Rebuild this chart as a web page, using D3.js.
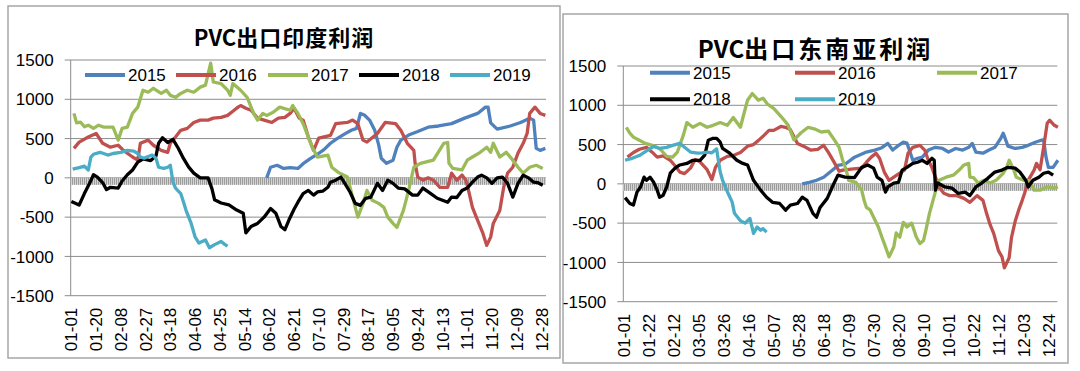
<!DOCTYPE html>
<html>
<head>
<meta charset="utf-8">
<script src="https://cdn.jsdelivr.net/npm/d3@7"></script>
<style>
  body { margin: 0; background: #fff; }
  svg { display: block; }
  text { font-family: "Liberation Sans", Arial, sans-serif; fill: #000; }
  .title { font-family: "Noto Sans CJK SC", sans-serif; font-weight: bold; }
</style>
</head>
<body>
<script>
// PVC export profit, two panels (India / Southeast Asia), one line per year.
// Points are [day of year (0 = 01-01), profit].

const years = ["2015", "2016", "2017", "2018", "2019"];
const colors = ["#4F81BD", "#C0504D", "#9BBB59", "#000000", "#4BACC6"];
const yTicks = [-1500, -1000, -500, 0, 500, 1000, 1500];

const indiaLabels = ["01-01","01-20","02-08","02-27","03-18","04-06","04-25","05-14","06-02","06-21",
  "07-10","07-29","08-17","09-05","09-24","10-13","11-01","11-20","12-09","12-28"];
const seaLabels = ["01-01","01-22","02-12","03-05","03-26","04-16","05-07","05-28","06-18",
  "07-09","07-30","08-20","09-10","10-01","10-22","11-12","12-03","12-24"];

// ---- India
const india2015 = [[150,0],[153,135],[158,160],[163,120],[168,130],[174,120],[178,180],[184,250],[189,300],[194,360],
  [199,440],[204,500],[210,560],[215,605],[219,630],[222,820],[225,800],[229,735],[233,605],[236,420],[238,250],
  [242,185],[247,225],[250,390],[253,480],[259,545],[266,590],[274,645],[282,660],[292,690],[302,760],[312,820],
  [318,900],[320,900],[322,700],[327,620],[337,660],[345,705],[352,760],[355,735],[357,375],[360,350],[364,375]];
const india2016 = [[2,375],[6,455],[13,520],[19,565],[24,440],[30,390],[36,415],[40,350],[47,265],[51,225],[53,440],
  [59,480],[63,415],[69,350],[74,325],[76,440],[80,520],[84,605],[89,630],[94,705],[99,735],[105,735],[109,760],
  [115,770],[120,795],[125,860],[128,900],[130,920],[134,885],[138,860],[143,760],[148,735],[154,705],[159,760],
  [164,770],[168,820],[171,885],[175,760],[178,735],[182,520],[186,350],[190,505],[199,540],[203,690],[212,705],
  [216,735],[220,690],[224,480],[227,455],[235,565],[241,705],[249,690],[253,605],[258,440],[263,350],[264,185],
  [266,10],[270,-30],[274,0],[278,-30],[283,-120],[289,-120],[292,60],[296,-30],[300,35],[303,-30],[305,-160],
  [308,-375],[312,-540],[316,-705],[319,-860],[322,-755],[324,-580],[329,-415],[332,-120],[335,60],[339,135],
  [343,315],[347,440],[350,565],[352,820],[356,900],[360,820],[364,795]];
const india2017 = [[2,820],[4,700],[7,710],[10,650],[13,670],[17,630],[21,670],[25,645],[32,645],[36,480],[39,630],
  [43,645],[47,820],[51,900],[55,1115],[59,1090],[63,1140],[69,1075],[73,1115],[76,1050],[80,1025],[84,1075],
  [89,1115],[94,1090],[99,1155],[103,1180],[107,1460],[109,1220],[115,1200],[120,1115],[122,1050],[124,1200],
  [130,1115],[135,1025],[140,820],[143,735],[147,820],[150,795],[155,835],[160,900],[168,860],[170,920],[174,820],
  [178,690],[185,390],[189,265],[197,290],[200,135],[205,70],[212,10],[216,-245],[220,-500],[224,-325],[227,-160],
  [231,-285],[236,-325],[240,-375],[243,-500],[247,-580],[250,-630],[255,-415],[259,-160],[263,135],[268,185],
  [278,225],[286,440],[289,450],[290,185],[293,120],[300,100],[304,225],[308,265],[314,325],[319,390],[322,325],
  [324,440],[329,265],[334,325],[339,225],[343,135],[347,60],[352,135],[357,160],[362,120]];
const india2018 = [[0,-300],[6,-345],[10,-200],[14,-70],[17,40],[20,10],[24,-60],[27,-150],[30,-120],[36,-130],
  [39,-40],[43,40],[47,100],[51,200],[55,240],[61,220],[65,280],[67,440],[70,510],[74,450],[78,490],[82,380],
  [86,250],[90,140],[94,60],[99,0],[105,0],[108,-140],[110,-280],[115,-320],[121,-345],[127,-410],[132,-450],
  [134,-700],[138,-620],[143,-580],[148,-500],[153,-390],[157,-450],[161,-620],[164,-660],[167,-540],[171,-400],
  [174,-310],[178,-200],[182,-160],[186,-220],[189,-180],[193,-170],[197,-120],[199,-55],[203,-30],[207,10],
  [210,-70],[214,-180],[218,-325],[222,-350],[226,-260],[230,-245],[235,-70],[239,-160],[243,-30],[247,-70],
  [251,-130],[256,-140],[262,-220],[266,-220],[270,-130],[276,-200],[281,-260],[285,-285],[289,-310],[292,-245],
  [296,-250],[300,-160],[304,-130],[308,-55],[312,10],[315,35],[319,0],[323,-70],[327,0],[331,10],[335,-70],
  [339,-245],[343,-70],[347,35],[351,0],[355,-55],[358,-60],[362,-95]];
const india2019 = [[1,110],[6,130],[10,150],[13,100],[15,265],[17,300],[22,325],[28,290],[32,310],[38,325],[43,350],
  [48,340],[51,310],[53,265],[56,250],[58,265],[62,290],[65,250],[67,135],[71,120],[74,135],[76,160],[78,-50],
  [80,-130],[84,-200],[86,-300],[88,-410],[92,-580],[95,-750],[98,-830],[103,-790],[106,-890],[110,-850],
  [115,-810],[118,-850],[120,-870]];

// ---- Southeast Asia
const sea2015 = [[150,0],[156,20],[162,45],[168,85],[175,170],[180,235],[186,250],[194,340],[203,400],[211,430],
  [217,460],[222,515],[226,430],[231,490],[235,530],[238,520],[241,390],[243,300],[247,325],[251,340],[256,430],
  [262,465],[268,450],[273,405],[279,450],[285,430],[290,465],[293,515],[296,405],[302,390],[307,430],[312,465],
  [317,580],[319,645],[323,480],[329,450],[335,465],[340,490],[346,530],[351,555],[353,560],[355,340],[357,210],
  [361,210],[365,300]];
const sea2016 = [[3,340],[8,400],[13,440],[19,465],[24,400],[28,340],[33,355],[39,300],[43,230],[47,150],[51,130],
  [56,200],[60,310],[64,280],[70,180],[74,55],[77,210],[81,300],[87,350],[92,360],[98,400],[104,480],[109,500],
  [113,550],[118,620],[122,680],[126,680],[132,730],[136,720],[140,690],[146,515],[151,480],[157,430],[163,440],
  [168,490],[172,400],[177,270],[181,160],[184,175],[193,190],[200,200],[204,275],[208,340],[212,390],[215,325],
  [219,150],[223,45],[227,85],[232,135],[236,175],[239,390],[243,465],[249,490],[253,430],[256,300],[259,210],
  [263,45],[265,-40],[269,-120],[274,-150],[280,-150],[286,-185],[291,-235],[297,-150],[302,-210],[305,-375],
  [308,-520],[311,-630],[315,-850],[318,-930],[320,-1070],[324,-940],[326,-680],[329,-480],[332,-335],[335,-210],
  [337,-120],[340,45],[345,175],[347,260],[350,180],[353,465],[356,770],[358,810],[362,745],[365,720]];
const sea2017 = [[2,720],[5,645],[8,595],[13,555],[18,515],[24,490],[30,450],[36,350],[41,340],[45,405],[50,620],
  [53,780],[58,720],[64,770],[70,720],[75,745],[81,780],[87,745],[92,845],[98,720],[101,895],[104,1065],[108,1150],
  [113,1065],[117,1090],[121,1010],[126,960],[132,860],[138,750],[143,560],[149,650],[155,720],[160,700],[166,660],
  [172,670],[177,560],[181,465],[184,300],[187,175],[189,45],[195,20],[200,-80],[202,-210],[204,-300],[207,-330],
  [210,-425],[214,-550],[217,-680],[219,-760],[223,-930],[227,-800],[229,-625],[232,-680],[235,-490],[238,-550],
  [242,-500],[246,-680],[249,-760],[252,-720],[254,-590],[257,-375],[260,-210],[263,-40],[265,45],[271,85],
  [277,110],[282,175],[286,240],[290,260],[291,85],[294,80],[298,10],[303,45],[308,10],[313,45],[319,135],
  [322,210],[324,300],[328,175],[330,85],[336,45],[341,40],[345,-80],[350,-80],[356,-40],[362,-55],[365,-40]];
const sea2018 = [[1,-175],[5,-250],[8,-270],[11,-105],[14,-40],[17,85],[19,45],[22,85],[25,20],[28,-80],[30,-170],
  [33,-145],[36,-40],[39,135],[43,200],[47,240],[53,260],[58,300],[64,300],[68,365],[71,555],[75,580],[78,580],
  [81,530],[83,450],[89,390],[95,300],[100,260],[104,240],[109,45],[115,-80],[120,-170],[125,-235],[131,-250],
  [136,-335],[140,-270],[146,-250],[150,-170],[154,-210],[159,-375],[162,-425],[165,-300],[171,-185],[176,-15],
  [180,110],[186,85],[194,80],[200,210],[205,240],[210,200],[213,85],[217,45],[220,-105],[222,-40],[227,10],
  [231,20],[234,175],[238,210],[243,260],[247,275],[251,300],[255,260],[259,325],[261,300],[262,-80],[264,10],
  [270,-40],[276,-55],[281,-120],[287,-105],[291,-150],[296,-40],[301,10],[306,70],[312,150],[318,175],[323,210],
  [329,200],[333,150],[338,45],[340,-40],[344,45],[349,85],[353,135],[357,150],[361,110]];
const sea2019 = [[1,300],[7,325],[13,360],[19,420],[25,475],[30,450],[36,465],[41,490],[47,515],[51,465],[56,405],
  [62,390],[66,395],[70,405],[74,395],[78,445],[79,340],[81,150],[83,45],[87,-100],[91,-230],[93,-375],[98,-470],
  [102,-500],[104,-470],[106,-440],[109,-630],[112,-550],[115,-590],[117,-570],[120,-615]];

const W = 1080, H = 371;
const svg = d3.select('body').append('svg').attr('width', W).attr('height', H);

// hatched grey band that Excel draws along the zero axis
const pat = svg.append('defs').append('pattern')
  .attr('id', 'hatch').attr('patternUnits', 'userSpaceOnUse')
  .attr('width', 2).attr('height', 8);
pat.append('rect').attr('width', 2).attr('height', 8).attr('fill', '#d4d4d4');
pat.append('rect').attr('width', 1).attr('height', 8).attr('fill', '#9c9c9c');

const yearStart = new Date(1900, 0, 1);
const parseMD = d3.timeParse('%m-%d');
const dayOf = s => d3.timeDay.count(yearStart, parseMD(s));

function panel(cfg) {
  const g = svg.append('g');
  const [fx0, fy0, fx1, fy1] = cfg.frame;
  g.append('rect')
    .attr('x', fx0).attr('y', fy0).attr('width', fx1 - fx0).attr('height', fy1 - fy0)
    .attr('fill', '#fff').attr('stroke', '#a6a6a6').attr('stroke-width', 1.5);

  const x = d3.scaleLinear().domain([0, 365]).range([cfg.left, cfg.right]);
  const y = d3.scaleLinear().domain([-1500, 1500]).range([cfg.bottom, cfg.top]);

  // gridlines + y labels
  g.selectAll('.grid').data(yTicks).join('line')
    .attr('x1', cfg.left - 6).attr('x2', cfg.right)
    .attr('y1', d => y(d)).attr('y2', d => y(d))
    .attr('stroke', '#8c8c8c').attr('stroke-width', 1);
  g.selectAll('.ylab').data(yTicks).join('text')
    .attr('x', cfg.left - 17).attr('y', d => y(d)).attr('dy', '0.36em')
    .attr('text-anchor', 'end').style('font-size', '17px')
    .text(d => d);
  g.append('line')
    .attr('x1', cfg.left).attr('x2', cfg.left).attr('y1', cfg.top).attr('y2', cfg.bottom)
    .attr('stroke', '#8c8c8c');

  g.append('rect')
    .attr('x', cfg.left).attr('y', y(0)).attr('width', cfg.right - cfg.left).attr('height', 7)
    .attr('fill', 'url(#hatch)');

  // x labels, rotated
  g.selectAll('.xlab').data(cfg.labels).join('text')
    .attr('transform', d => `translate(${x(dayOf(d) + 0.5)},${cfg.bottom + 12}) rotate(-90)`)
    .attr('dy', '0.36em').attr('text-anchor', 'end').style('font-size', '17px')
    .text(d => d);

  const line = d3.line().x(d => x(d[0] + 0.5)).y(d => y(d[1]));
  g.selectAll('.series').data(cfg.series).join('path')
    .attr('d', d => line(d))
    .attr('fill', 'none')
    .attr('stroke', (d, i) => colors[i])
    .attr('stroke-width', 3.3)
    .attr('stroke-linejoin', 'round');

  // legend
  const lg = g.selectAll('.leg').data(years).join('g')
    .attr('transform', (d, i) => `translate(${cfg.legendPos[i][0]},${cfg.legendPos[i][1]})`);
  lg.append('line').attr('x1', 0).attr('x2', 40)
    .attr('stroke', (d, i) => colors[i]).attr('stroke-width', 4);
  lg.append('text').attr('x', 43).attr('dy', '0.36em').style('font-size', '17px').text(d => d);

  // title
  const t = g.append('text').attr('class', 'title')
    .attr('x', (fx0 + fx1) / 2).attr('y', cfg.titleY)
    .attr('text-anchor', 'middle').style('font-size', cfg.titleSize + 'px');
  t.append('tspan').text('PVC');
  t.append('tspan').style('letter-spacing', cfg.titleSpacing + 'px').text(cfg.title);
}

panel({
  frame: [8, 6, 560, 358],
  left: 70.7, right: 546, top: 60, bottom: 295.7,
  labels: indiaLabels,
  series: [india2015, india2016, india2017, india2018, india2019],
  legendPos: [[85, 75], [176, 75], [268, 75], [359, 75], [450, 75]],
  title: '出口印度利润', titleSize: 22, titleSpacing: 1, titleY: 46
});

panel({
  frame: [563, 14, 1068, 363],
  left: 623.3, right: 1057.3, top: 66, bottom: 301.7,
  labels: seaLabels,
  series: [sea2015, sea2016, sea2017, sea2018, sea2019],
  legendPos: [[650, 72.7], [795, 72.7], [937, 72.7], [650, 99.3], [795, 99.3]],
  title: '出口东南亚利润', titleSize: 24, titleSpacing: 3, titleY: 58
});
</script>
</body>
</html>
